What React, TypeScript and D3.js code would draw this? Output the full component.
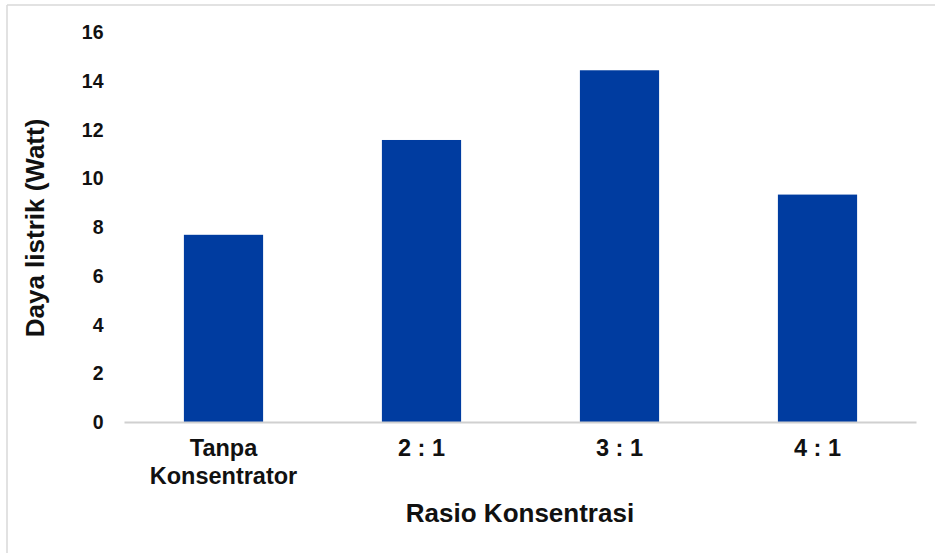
import React from "react";
import * as d3 from "d3";

const categories: string[][] = [["Tanpa", "Konsentrator"], ["2 : 1"], ["3 : 1"], ["4 : 1"]];
const values: number[] = [7.68, 11.57, 14.43, 9.33];
const yTicks: number[] = [0, 2, 4, 6, 8, 10, 12, 14, 16];
const yTitle = "Daya listrik (Watt)";
const xTitle = "Rasio Konsentrasi";

const W = 935;
const H = 553;
const FONT = "'Liberation Sans', Arial, Helvetica, sans-serif";

export default function App() {
  const keys = categories.map((c) => c.join(" "));
  const x = d3.scaleBand<string>().domain(keys).range([124.5, 916.5]).paddingInner(0.6).paddingOuter(0.3);
  const y = d3.scaleLinear().domain([0, 16]).range([422, 32]);

  return (
    <svg width={W} height={H} style={{ position: "absolute", left: 0, top: 0, background: "#fff" }}>
      <rect x={0} y={0} width={W} height={H} fill="#fff" />
      <line x1={7} y1={5} x2={W} y2={5} stroke="#d9d9d9" strokeWidth={1.5} />
      <line x1={7} y1={5} x2={7} y2={H} stroke="#d9d9d9" strokeWidth={1.5} />
      {values.map((v, i) => (
        <rect key={i} x={x(keys[i])} y={y(v)} width={x.bandwidth()} height={y(0) - y(v)} fill="#003ca0" />
      ))}
      <line x1={124.5} x2={916.5} y1={y(0) + 0.5} y2={y(0) + 0.5} stroke="#d0d0d0" strokeWidth={2} />
      {yTicks.map((t) => (
        <text key={t} x={103.5} y={y(t)} dy="0.36em" textAnchor="end" fontFamily={FONT} fontWeight="bold" fontSize={19.5} fill="#111">
          {t}
        </text>
      ))}
      {categories.map((lines, i) => (
        <text key={i} textAnchor="middle" fontFamily={FONT} fontWeight="bold" fontSize={23.5} fill="#111">
          {lines.map((ln, j) => (
            <tspan key={j} x={(x(keys[i]) as number) + x.bandwidth() / 2} y={456 + j * 28}>
              {ln}
            </tspan>
          ))}
        </text>
      ))}
      <text x={520} y={522} textAnchor="middle" fontFamily={FONT} fontWeight="bold" fontSize={26} fill="#111">
        {xTitle}
      </text>
      <text transform={`translate(44,228) rotate(-90)`} textAnchor="middle" fontFamily={FONT} fontWeight="bold" fontSize={26} fill="#111">
        {yTitle}
      </text>
    </svg>
  );
}
